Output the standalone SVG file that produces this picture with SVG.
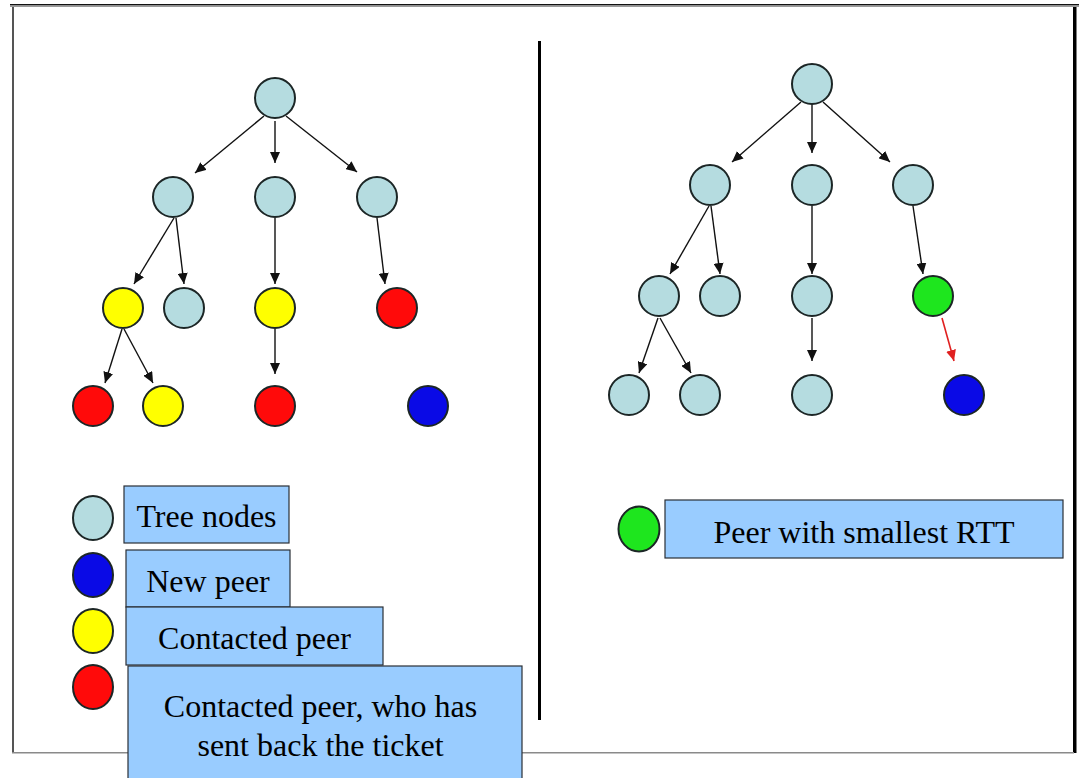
<svg xmlns="http://www.w3.org/2000/svg" width="1079" height="778" viewBox="0 0 1079 778">
  <style>
    .n { stroke: #1c2626; stroke-width: 2; }
    .tree { fill: #b5dce0; }
    .new { fill: #0a0ae6; }
    .contacted { fill: #ffff00; }
    .ticket { fill: #ff0a0a; }
    .best { fill: #1ee61e; }
    .edge { stroke: #111; stroke-width: 1.4; fill: none; marker-end: url(#arrow); }
    .edge-red { stroke: #e02020; stroke-width: 1.6; fill: none; marker-end: url(#arrow-red); }
    .box { fill: #99ccff; stroke: #2a2f36; stroke-width: 1.2; }
    .label { font-family: "Liberation Serif", "Times New Roman", serif; font-size: 32px; fill: #000; text-anchor: middle; }
  </style>
  <defs>
    <marker id="arrow" markerUnits="userSpaceOnUse" markerWidth="11" markerHeight="10" refX="11" refY="5" orient="auto">
      <path d="M0,0 L11,5 L0,10 z" fill="#111"/>
    </marker>
    <marker id="arrow-red" markerUnits="userSpaceOnUse" markerWidth="11" markerHeight="10" refX="11" refY="5" orient="auto">
      <path d="M0,0 L11,5 L0,10 z" fill="#e02020"/>
    </marker>
  </defs>

  <rect width="1079" height="778" fill="#ffffff"/>

  <!-- page frame -->
  <g id="frame">
    <rect x="10" y="4" width="1069" height="1.5" fill="#111"/>
    <rect x="10" y="5.5" width="1069" height="1.5" fill="#9a9a9a"/>
    <rect x="12" y="7" width="2" height="746" fill="#555"/>
    <rect x="1073" y="7" width="3.5" height="746" fill="#000"/>
    <rect x="12" y="752" width="1062" height="1.5" fill="#8a8a8a"/>
    <rect x="538" y="41" width="3" height="679" fill="#000"/>
  </g>

  <!-- connectors -->
  <g id="connectors">
    <!-- left tree -->
    <line class="edge" x1="264" y1="116" x2="195" y2="173"/>
    <line class="edge" x1="275" y1="121" x2="275" y2="163"/>
    <line class="edge" x1="286" y1="116" x2="357" y2="172"/>
    <line class="edge" x1="174" y1="218" x2="134" y2="284"/>
    <line class="edge" x1="176" y1="218" x2="184" y2="284"/>
    <line class="edge" x1="275" y1="218" x2="275" y2="284"/>
    <line class="edge" x1="377" y1="218" x2="385" y2="284"/>
    <line class="edge" x1="122" y1="329" x2="105" y2="383"/>
    <line class="edge" x1="124" y1="329" x2="153" y2="383"/>
    <line class="edge" x1="275" y1="329" x2="275" y2="374"/>
    <!-- right tree -->
    <line class="edge" x1="801" y1="102" x2="732" y2="162"/>
    <line class="edge" x1="812" y1="104" x2="812" y2="153"/>
    <line class="edge" x1="823" y1="102" x2="890" y2="162"/>
    <line class="edge" x1="709" y1="206" x2="670" y2="274"/>
    <line class="edge" x1="711" y1="206" x2="720" y2="274"/>
    <line class="edge" x1="812" y1="206" x2="812" y2="274"/>
    <line class="edge" x1="913" y1="206" x2="923" y2="274"/>
    <line class="edge" x1="658" y1="318" x2="639" y2="373"/>
    <line class="edge" x1="660" y1="318" x2="691" y2="373"/>
    <line class="edge" x1="812" y1="318" x2="812" y2="361"/>
    <line class="edge-red" x1="942" y1="318" x2="954" y2="361"/>
  </g>

  <!-- left tree nodes -->
  <g id="left-root"><circle class="n tree" cx="275" cy="98" r="20"/></g>
  <g id="left-a"><circle class="n tree" cx="173" cy="197" r="20"/></g>
  <g id="left-b"><circle class="n tree" cx="275" cy="197" r="20"/></g>
  <g id="left-c"><circle class="n tree" cx="377" cy="197" r="20"/></g>
  <g id="left-a1"><circle class="n contacted" cx="123" cy="308" r="20"/></g>
  <g id="left-a2"><circle class="n tree" cx="184" cy="308" r="20"/></g>
  <g id="left-b1"><circle class="n contacted" cx="275" cy="308" r="20"/></g>
  <g id="left-c1"><circle class="n ticket" cx="397" cy="308" r="20"/></g>
  <g id="left-a1a"><circle class="n ticket" cx="93" cy="406" r="20"/></g>
  <g id="left-a1b"><circle class="n contacted" cx="163" cy="406" r="20"/></g>
  <g id="left-b1a"><circle class="n ticket" cx="275" cy="406" r="20"/></g>
  <g id="left-newpeer"><circle class="n new" cx="428" cy="406" r="20"/></g>

  <!-- right tree nodes -->
  <g id="right-root"><circle class="n tree" cx="812" cy="84" r="20"/></g>
  <g id="right-a"><circle class="n tree" cx="710" cy="185" r="20"/></g>
  <g id="right-b"><circle class="n tree" cx="812" cy="185" r="20"/></g>
  <g id="right-c"><circle class="n tree" cx="913" cy="185" r="20"/></g>
  <g id="right-a1"><circle class="n tree" cx="659" cy="296" r="20"/></g>
  <g id="right-a2"><circle class="n tree" cx="720" cy="296" r="20"/></g>
  <g id="right-b1"><circle class="n tree" cx="812" cy="296" r="20"/></g>
  <g id="right-c1"><circle class="n best" cx="933" cy="296" r="20"/></g>
  <g id="right-a1a"><circle class="n tree" cx="629" cy="395" r="20"/></g>
  <g id="right-a1b"><circle class="n tree" cx="700" cy="395" r="20"/></g>
  <g id="right-b1a"><circle class="n tree" cx="812" cy="395" r="20"/></g>
  <g id="right-newpeer"><circle class="n new" cx="964" cy="395" r="20"/></g>

  <!-- legend, left -->
  <g id="legend-tree">
    <ellipse class="n tree" cx="93" cy="518" rx="20" ry="22"/>
    <rect class="box" x="124" y="486" width="165" height="57"/>
    <text class="label" x="206.5" y="527">Tree nodes</text>
  </g>
  <g id="legend-new">
    <ellipse class="n new" cx="93" cy="575" rx="20" ry="22"/>
    <rect class="box" x="126" y="550" width="164" height="57"/>
    <text class="label" x="208" y="592">New peer</text>
  </g>
  <g id="legend-contacted">
    <ellipse class="n contacted" cx="93" cy="631" rx="20" ry="22"/>
    <rect class="box" x="126" y="607" width="257" height="58"/>
    <text class="label" x="254.5" y="649">Contacted peer</text>
  </g>
  <g id="legend-ticket">
    <ellipse class="n ticket" cx="93" cy="687" rx="20" ry="22"/>
    <rect class="box" x="128" y="666" width="394" height="120"/>
    <text class="label" x="320.5" y="717">Contacted peer, who has</text>
    <text class="label" x="320.5" y="756">sent back the ticket</text>
  </g>

  <!-- legend, right -->
  <g id="legend-best">
    <ellipse class="n best" cx="639" cy="529" rx="20.5" ry="22.5"/>
    <rect class="box" x="665" y="500" width="398" height="58"/>
    <text class="label" x="864" y="543">Peer with smallest RTT</text>
  </g>
</svg>
